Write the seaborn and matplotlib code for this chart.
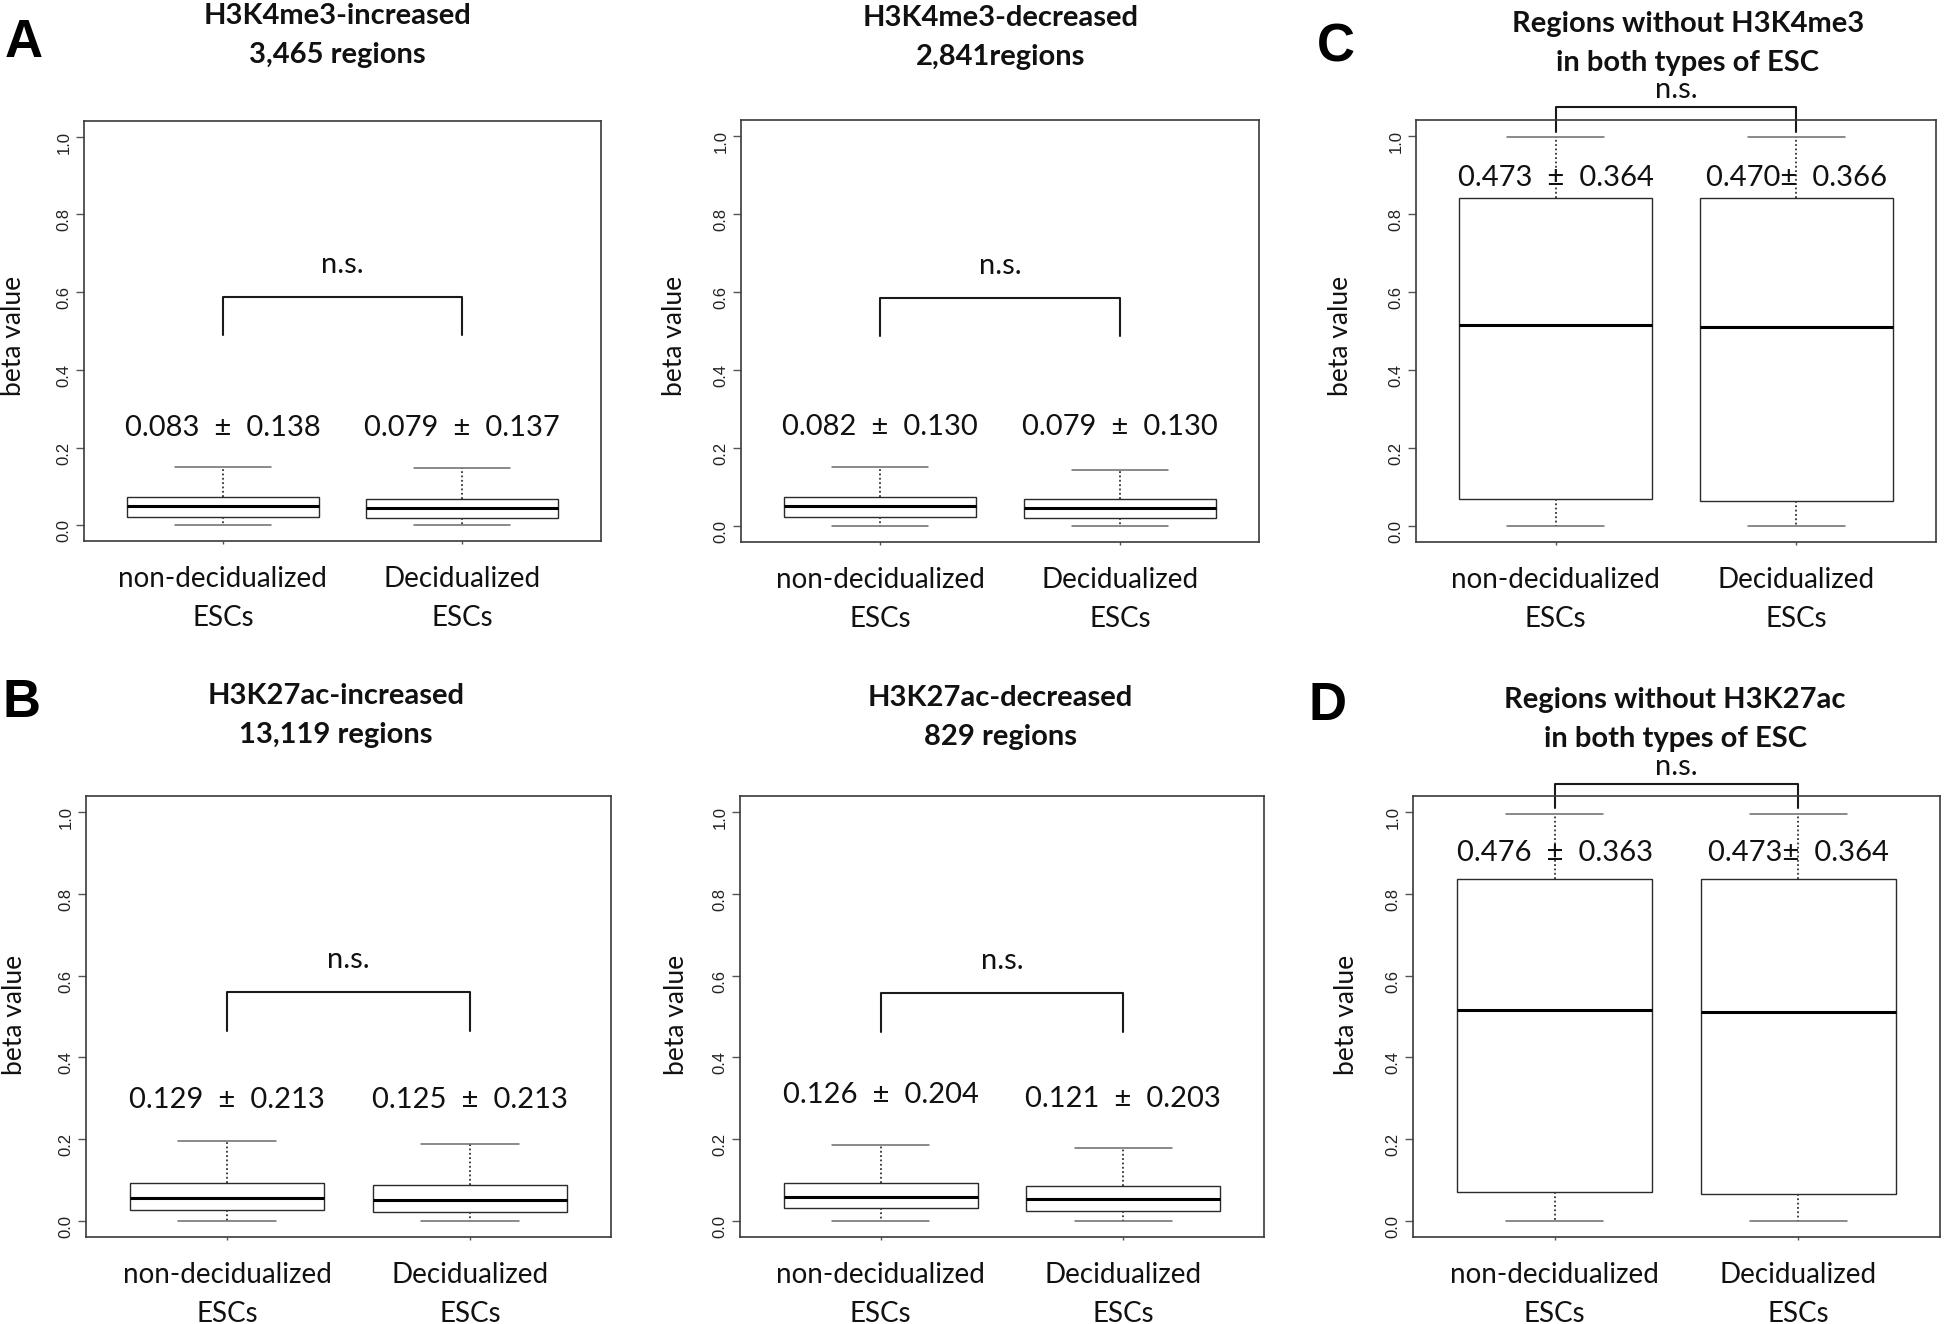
import matplotlib
matplotlib.use("Agg")
import matplotlib.pyplot as plt
import seaborn as sns
import pandas as pd

sns.set_style("white")
plt.rcParams["font.family"] = ["Lato", "DejaVu Sans"]

W, H = 1946, 1324

groups = ["non-decidualized\nESCs", "Decidualized\nESCs"]
yticks = [0.0, 0.2, 0.4, 0.6, 0.8, 1.0]
ytick_labels = ["0.0", "0.2", "0.4", "0.6", "0.8", "1.0"]

# five-number summaries [min, q1, median, q3, max]
a1_non = [0.0, 0.022, 0.050, 0.073, 0.150]
a1_dec = [0.0, 0.020, 0.046, 0.069, 0.147]
a2_non = [0.0, 0.025, 0.051, 0.075, 0.153]
a2_dec = [0.0, 0.021, 0.047, 0.070, 0.144]
c_non = [0.0, 0.069, 0.516, 0.841, 0.997]
c_dec = [0.0, 0.066, 0.511, 0.841, 0.997]
b1_non = [0.0, 0.025, 0.056, 0.093, 0.195]
b1_dec = [0.0, 0.022, 0.051, 0.087, 0.187]
b2_non = [0.0, 0.030, 0.057, 0.093, 0.185]
b2_dec = [0.0, 0.023, 0.053, 0.086, 0.179]
d_non = [0.0, 0.069, 0.515, 0.836, 0.995]
d_dec = [0.0, 0.066, 0.511, 0.836, 0.995]

# mean +- sd labels
a1_means = ["0.083  \u00b1  0.138", "0.079  \u00b1  0.137"]
a2_means = ["0.082  \u00b1  0.130", "0.079  \u00b1  0.130"]
c_means = ["0.473  \u00b1  0.364", "0.470\u00b1  0.366"]
b1_means = ["0.129  \u00b1  0.213", "0.125  \u00b1  0.213"]
b2_means = ["0.126  \u00b1  0.204", "0.121  \u00b1  0.203"]
d_means = ["0.476  \u00b1  0.363", "0.473\u00b1  0.364"]

a1_title = ["H3K4me3-increased", "3,465 regions"]
a2_title = ["H3K4me3-decreased", "2,841regions"]
c_title = ["Regions without H3K4me3", "in both types of ESC"]
b1_title = ["H3K27ac-increased", "13,119 regions"]
b2_title = ["H3K27ac-decreased", "829 regions"]
d_title = ["Regions without H3K27ac", "in both types of ESC"]

# layout (pixels): axes rect, title centre x / baselines, ylabel centre,
# mean-label baselines (data), bracket (ends, top) and n.s. baseline (data)
panels = [
    dict(rect=(84, 121, 601, 541), stats=(a1_non, a1_dec), means=a1_means, mean_y=(0.230, 0.230),
         title=a1_title, tx=337, ty=(24, 63), yl=(14, 336), br=(0.490, 0.587), ns=0.649),
    dict(rect=(741, 120, 1259, 542), stats=(a2_non, a2_dec), means=a2_means, mean_y=(0.233, 0.233),
         title=a2_title, tx=1001, ty=(26, 65), yl=(675, 336), br=(0.487, 0.585), ns=0.647),
    dict(rect=(1416, 120, 1936, 542), stats=(c_non, c_dec), means=c_means, mean_y=(0.871, 0.871),
         title=c_title, tx=1688, ty=(32, 71), yl=(1341, 336), br=(1.009, 1.073), ns=1.097),
    dict(rect=(86, 796, 611, 1237), stats=(b1_non, b1_dec), means=b1_means, mean_y=(0.276, 0.276),
         title=b1_title, tx=336, ty=(704, 743), yl=(15, 1015), br=(0.465, 0.559), ns=0.619),
    dict(rect=(740, 796, 1264, 1237), stats=(b2_non, b2_dec), means=b2_means, mean_y=(0.288, 0.278),
         title=b2_title, tx=1000, ty=(706, 745), yl=(677, 1015), br=(0.463, 0.557), ns=0.616),
    dict(rect=(1413, 796, 1940, 1237), stats=(d_non, d_dec), means=d_means, mean_y=(0.880, 0.880),
         title=d_title, tx=1675, ty=(708, 747), yl=(1347, 1015), br=(1.010, 1.070), ns=1.092),
]

letters = [("A", 5, 57), ("C", 1317, 61), ("B", 3, 717), ("D", 1308, 720)]

fig = plt.figure(figsize=(W / 100, H / 100), dpi=100)
fig.patch.set_facecolor("white")

for p in panels:
    l, t, r, b = p["rect"]
    ax = fig.add_axes([l / W, 1 - b / H, (r - l) / W, (b - t) / H])
    df = pd.DataFrame({
        "group": [g for g, s in zip(groups, p["stats"]) for _ in s],
        "beta": [v for s in p["stats"] for v in s],
    })
    sns.boxplot(data=df, x="group", y="beta", order=groups, ax=ax,
                color="white", linecolor="#2b2b2b", linewidth=1.0, width=0.8,
                whis=(0, 100), fliersize=0,
                medianprops=dict(color="black", linewidth=2.2),
                whiskerprops=dict(color="#333333", linestyle=(0, (1, 1.4)), linewidth=1.3),
                capprops=dict(color="#6a6a6a", linewidth=1.1))
    ax.set_xlim(-0.58, 1.58)
    ax.set_ylim(-0.04, 1.04)
    ax.set_xlabel("")
    ax.set_ylabel("")
    ax.set_yticks(yticks)
    ax.set_yticklabels(ytick_labels)
    ax.tick_params(axis="y", left=True, labelrotation=90, length=6, width=1, color="#555555", pad=3,
                   labelsize=12, labelcolor="#222222", labelfontfamily="Liberation Sans")
    ax.tick_params(axis="x", bottom=True, length=2, width=1, color="#555555", pad=16,
                   labelsize=20, labelcolor="#111111")
    plt.setp(ax.get_xticklabels(), linespacing=1.62)
    for spine in ax.spines.values():
        spine.set_visible(True)
        spine.set_color("#3a3a3a")
        spine.set_linewidth(1.2)

    lo, top = p["br"]
    ax.plot([0, 0, 1, 1], [lo, top, top, lo], color="#1a1a1a", lw=1.5, clip_on=False)
    ax.text(0.5, p["ns"], "n.s.", ha="center", va="baseline", fontsize=21, color="#111111")
    for i, (m, my) in enumerate(zip(p["means"], p["mean_y"])):
        ax.text(i, my, m, ha="center", va="baseline", fontsize=21, color="#111111")

    for line, yb in zip(p["title"], p["ty"]):
        fig.text(p["tx"] / W, 1 - yb / H, line, ha="center", va="baseline",
                 fontsize=21, fontweight="bold", color="#111111")
    fig.text(p["yl"][0] / W, 1 - p["yl"][1] / H, "beta value", rotation=90,
             ha="center", va="center", fontsize=19, color="#111111")

for letter, x, y in letters:
    fig.text(x / W, 1 - y / H, letter, ha="left", va="baseline", fontsize=38,
             fontweight="bold", fontfamily="Liberation Sans", color="black")

fig.savefig("out.png", dpi=100, facecolor="white")
